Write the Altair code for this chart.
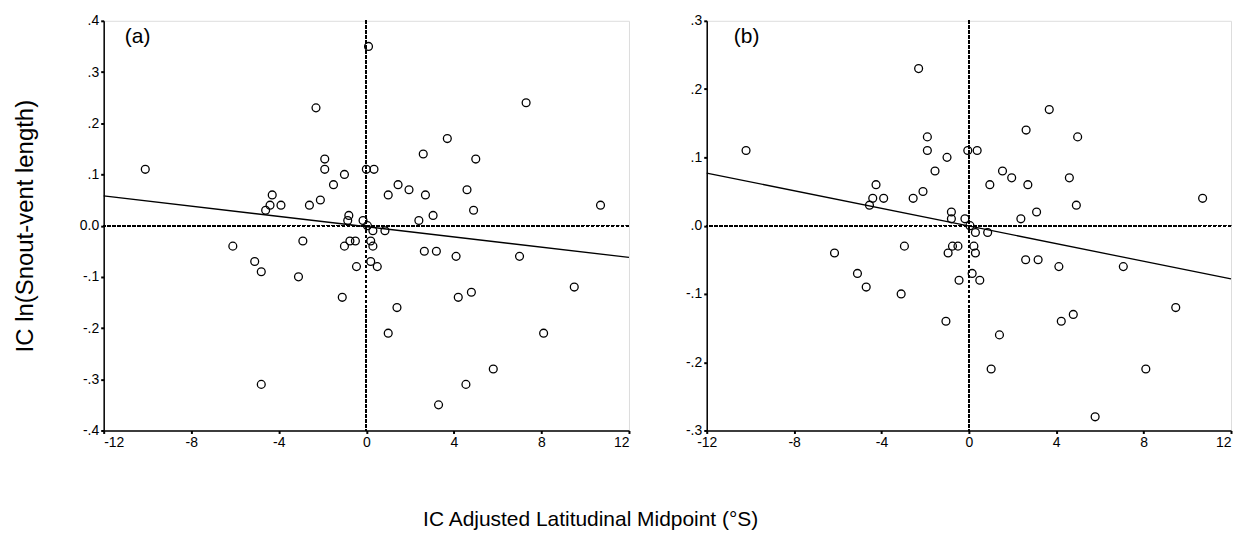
import altair as alt
import pandas as pd

FONT = "Liberation Sans"

# ---- panel (a) data ----
a_x = [-10.1, -6.1, -5.1, -4.8, -4.6, -4.4, -4.3, -3.9, -3.1, -2.9, -2.6, -2.3, -2.1,
       -1.9, -1.9, -1.5, -1.1, -1.0, -1.0, -0.8, -0.85, -0.75, -0.5, -0.45, -0.15, 0.0,
       0.05, 0.2, 0.3, 0.2, 0.3, 0.35, 0.5, 0.85, 1.0, 1.0, 1.4, 1.45, 1.95, 2.4, 2.6,
       2.65, 2.7, 3.05, 3.2, 3.7, 4.1, 4.2, 4.6, 4.8, 4.9, 5.0, 5.8, 7.0, 8.1, 9.5, 10.7,
       0.1, 7.3, 3.3, 4.55, -4.8]
a_y = [0.11, -0.04, -0.07, -0.09, 0.03, 0.04, 0.06, 0.04, -0.10, -0.03, 0.04, 0.23, 0.05,
       0.11, 0.13, 0.08, -0.14, 0.10, -0.04, 0.02, 0.01, -0.03, -0.03, -0.08, 0.01, 0.11,
       0.0, -0.03, -0.04, -0.07, -0.01, 0.11, -0.08, -0.01, 0.06, -0.21, -0.16, 0.08, 0.07,
       0.01, 0.14, -0.05, 0.06, 0.02, -0.05, 0.17, -0.06, -0.14, 0.07, -0.13, 0.03, 0.13,
       -0.28, -0.06, -0.21, -0.12, 0.04,
       0.35, 0.24, -0.35, -0.31, -0.31]

# ---- panel (b) data ----
b_x = [-10.2, -6.15, -5.1, -4.7, -4.55, -4.4, -4.25, -3.9, -3.1, -2.95, -2.55, -2.3, -2.1,
       -1.9, -1.9, -1.55, -1.05, -1.0, -0.95, -0.8, -0.8, -0.75, -0.5, -0.45, -0.18, -0.05,
       0.05, 0.23, 0.3, 0.15, 0.3, 0.38, 0.5, 0.86, 0.96, 1.02, 1.4, 1.54, 1.96, 2.38, 2.62,
       2.6, 2.7, 3.1, 3.17, 3.68, 4.12, 4.23, 4.6, 4.78, 4.92, 4.98, 5.78, 7.07, 8.1, 9.47, 10.7]
b_y = [0.11, -0.04, -0.07, -0.09, 0.03, 0.04, 0.06, 0.04, -0.10, -0.03, 0.04, 0.23, 0.05,
       0.11, 0.13, 0.08, -0.14, 0.10, -0.04, 0.02, 0.01, -0.03, -0.03, -0.08, 0.01, 0.11,
       0.0, -0.03, -0.04, -0.07, -0.01, 0.11, -0.08, -0.01, 0.06, -0.21, -0.16, 0.08, 0.07,
       0.01, 0.14, -0.05, 0.06, 0.02, -0.05, 0.17, -0.06, -0.14, 0.07, -0.13, 0.03, 0.13,
       -0.28, -0.06, -0.21, -0.12, 0.04]

# fitted line end points
fit_x = [-12, 12]
fit_a = [0.058, -0.062]
fit_b = [0.077, -0.078]

x_ticks = [-12, -8, -4, 0, 4, 8, 12]
a_ticks = [0.4, 0.3, 0.2, 0.1, 0.0, -0.1, -0.2, -0.3, -0.4]
b_ticks = [0.3, 0.2, 0.1, 0.0, -0.1, -0.2, -0.3]

y_title = "IC ln(Snout-vent length)"
x_title = "IC Adjusted Latitudinal Midpoint (°S)"


def panel(xs, ys, fit_y, ydom, yticks, zero_label, label, lab_x, width, show_title, flush_last):
    df = pd.DataFrame({"x": xs, "y": ys})
    fit = pd.DataFrame({"x": fit_x, "y": fit_y})
    xs_ = alt.Scale(domain=[-12, 12], nice=False, zero=False)
    ys_ = alt.Scale(domain=ydom, nice=False, zero=False)
    ylab = ("datum.value == 0 ? '" + zero_label + "' : "
            "(datum.value < 0 ? '-' : '') + replace(format(abs(datum.value), '.1f'), '0.', '.')")
    xlab = "(datum.value < 0 ? '-' : '') + format(abs(datum.value), 'd')"
    common = dict(domainColor="black", domainWidth=1.5, tickColor="black", tickSize=3,
                  tickWidth=2, labelFont=FONT, labelFontSize=14, labelColor="black",
                  grid=False, labelPadding=2)
    if flush_last:
        xaxis = alt.Axis(values=x_ticks, labelExpr=xlab, title=None,
                         labelAlign={"condition": {"test": "datum.value == 12", "value": "right"},
                                     "value": "center"},
                         **common)
    else:
        xaxis = alt.Axis(values=x_ticks, labelExpr=xlab, title=None, **common)
    if show_title:
        yaxis = alt.Axis(values=yticks, labelExpr=ylab, title=y_title, titleFont=FONT,
                         titleFontSize=24, titleFontWeight="normal", titleColor="black",
                         titlePadding=42, **common)
    else:
        yaxis = alt.Axis(values=yticks, labelExpr=ylab, title=None, **common)

    pts = alt.Chart(df).mark_point(shape="circle", filled=False, size=62, color="black",
                                   strokeWidth=1.3, opacity=1).encode(
        x=alt.X("x:Q", scale=xs_, axis=xaxis),
        y=alt.Y("y:Q", scale=ys_, axis=yaxis),
    )
    vrule = alt.Chart(df).mark_rule(color="black", strokeDash=[3, 2], strokeWidth=1.1).encode(
        x=alt.datum(0, scale=xs_)
    )
    hrule = alt.Chart(df).mark_rule(color="black", strokeDash=[3, 2], strokeWidth=1.1).encode(
        y=alt.datum(0, scale=ys_)
    )
    line = alt.Chart(fit).mark_line(color="black", strokeWidth=1.3).encode(
        x=alt.X("x:Q", scale=xs_), y=alt.Y("y:Q", scale=ys_)
    )
    txt = alt.Chart(pd.DataFrame({"t": [label]})).mark_text(
        font=FONT, fontSize=21, color="black", align="center", baseline="middle"
    ).encode(text="t:N", x=alt.value(lab_x), y=alt.value(16))
    return alt.layer(vrule, hrule, line, pts, txt).properties(width=width, height=411)


pa = panel(a_x, a_y, fit_a, [-0.4, 0.4], a_ticks, "0.0", "(a)", 34, 527, True, False)
pb = panel(b_x, b_y, fit_b, [-0.3, 0.3], b_ticks, ".0", "(b)", 40, 526, False, True)

chart = alt.hconcat(pa, pb, spacing=52).properties(
    title=alt.TitleParams(text=x_title, orient="bottom", anchor="middle", fontSize=21,
                          font=FONT, fontWeight="normal", color="black", offset=59, dx=-33),
    padding={"left": 5, "top": 4, "right": 0, "bottom": 0},
).configure_view(stroke=None).configure(background="white")

chart.save("out.html", embed_options={"renderer": "svg", "actions": False})
